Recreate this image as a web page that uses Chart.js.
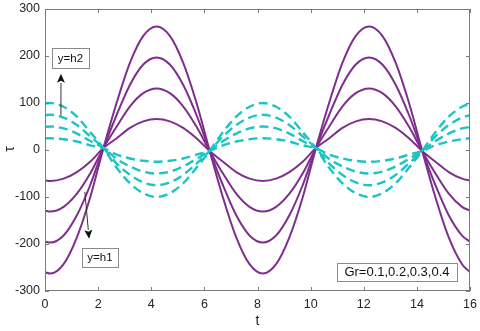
<!DOCTYPE html>
<html>
<head>
<meta charset="utf-8">
<script src="https://cdn.jsdelivr.net/npm/chart.js@4.4.1/dist/chart.umd.min.js"></script>
<style>
  html, body { margin:0; padding:0; background:#fff; }
  #wrap { width:480px; height:331px; }
</style>
</head>
<body>
<div id="wrap"><canvas id="chart" width="480" height="331"></canvas></div>
<script>
// ─── Data ─────────────────────────────────────────────────────────────────────
const T = [0, 0.2, 0.7, 1.2, 1.7, 2.2, 2.7, 3.2, 3.7, 4.2, 4.7, 5.2, 5.7, 6.2, 6.7, 7.2, 7.7,
           8.2, 8.7, 9.2, 9.7, 10.2, 10.7, 11.2, 11.7, 12.2, 12.7, 13.2, 13.7, 14.2, 14.7, 15.2, 15.7, 16];

// purple solid (tau, y=h1 side)
const P1 = [-65, -66,-61,-47,-25, 4, 25,47,61, 66,61,47,25, -2, -25,-47,-61, -66,-61,-47,-25, 4, 25,47,61, 66,61,47,25, -2, -25,-47,-61, -65];
const P2 = [-129, -131,-121,-93,-50, 4, 50,93,121, 131,121,93,50, -2, -50,-93,-121, -131,-121,-93,-50, 4, 50,93,121, 131,121,93,50, -2, -50,-93,-121, -129];
const P3 = [-195, -197,-182,-139,-75, 4, 75,139,182, 197,182,139,75, -2, -75,-139,-182, -197,-182,-139,-75, 4, 75,139,182, 197,182,139,75, -2, -75,-139,-182, -195];
const P4 = [-260, -263,-243,-186,-101, 4, 101,186,243, 263,243,186,101, -2, -101,-186,-243, -263,-243,-186,-101, 4, 101,186,243, 263,243,186,101, -2, -101,-186,-243, -260];

// cyan dashed (y=h2 side)
const C1 = [25, 25,23,18,10, 4, -10,-18,-23, -25,-23,-18,-10, -2, 10,18,23, 25,23,18,10, 4, -10,-18,-23, -25,-23,-18,-10, -2, 10,18,23, 25];
const C2 = [49, 50,46,35,19, 4, -19,-35,-46, -50,-46,-35,-19, -2, 19,35,46, 50,46,35,19, 4, -19,-35,-46, -50,-46,-35,-19, -2, 19,35,46, 49];
const C3 = [74, 75,69,53,29, 4, -29,-53,-69, -75,-69,-53,-29, -2, 29,53,69, 75,69,53,29, 4, -29,-53,-69, -75,-69,-53,-29, -2, 29,53,69, 74];
const C4 = [99, 100,92,71,38, 4, -38,-71,-92, -100,-92,-71,-38, -2, 38,71,92, 100,92,71,38, 4, -38,-71,-92, -100,-92,-71,-38, -2, 38,71,92, 99];

const X_TICKS = [0, 2, 4, 6, 8, 10, 12, 14, 16];
const Y_TICKS = [-300, -200, -100, 0, 100, 200, 300];

// ─── Style ────────────────────────────────────────────────────────────────────
const PURPLE = '#7e2f8e';
const CYAN = '#1cc4c4';
const AXIS = '#7a7a7a';
const TXT = '#262626';
const FONT = "'Liberation Sans', Arial, sans-serif";

const pts = arr => T.map((t, i) => ({ x: t, y: arr[i] }));
const cyanSet = arr => ({ data: pts(arr), borderColor: CYAN, borderWidth: 2.4, borderDash: [9, 5], pointRadius: 0, cubicInterpolationMode: 'monotone' });
const purpleSet = arr => ({ data: pts(arr), borderColor: PURPLE, borderWidth: 2, pointRadius: 0, cubicInterpolationMode: 'monotone' });

// annotation boxes & arrows, in data coordinates
const NOTES = [
  { text: 'y=h2', t: 0.96, v: 196, w: 37, h: 20, size: 11.5 },
  { text: 'y=h1', t: 2.07, v: -229, w: 36, h: 19, size: 11.5 },
  { text: 'Gr=0.1,0.2,0.3,0.4', t: 13.25, v: -260, w: 120, h: 18, size: 13 },
];
const ARROWS = [
  { from: [0.6, 74], to: [0.6, 162] },
  { from: [1.5, -89], to: [1.66, -189] },
];

// ─── Frame / ticks / labels plugin ────────────────────────────────────────────
const framePlugin = {
  id: 'frame',
  afterDraw(chart) {
    const { ctx, chartArea: a, scales: { x, y } } = chart;
    ctx.save();
    ctx.strokeStyle = AXIS;
    ctx.lineWidth = 1;
    ctx.strokeRect(a.left + 0.5, a.top + 0.5, a.right - a.left - 1, a.bottom - a.top - 1);
    ctx.beginPath();
    X_TICKS.forEach(v => {
      const px = Math.round(x.getPixelForValue(v)) + 0.5;
      ctx.moveTo(px, a.bottom); ctx.lineTo(px, a.bottom - 4);
      ctx.moveTo(px, a.top); ctx.lineTo(px, a.top + 4);
    });
    Y_TICKS.forEach(v => {
      const py = Math.round(y.getPixelForValue(v)) + 0.5;
      ctx.moveTo(a.left, py); ctx.lineTo(a.left + 4, py);
      ctx.moveTo(a.right, py); ctx.lineTo(a.right - 4, py);
    });
    ctx.stroke();

    // axis titles
    ctx.fillStyle = TXT;
    ctx.font = `14px ${FONT}`;
    ctx.textAlign = 'center';
    ctx.textBaseline = 'middle';
    ctx.fillText('t', (a.left + a.right) / 2, 321);
    ctx.save();
    ctx.translate(10, y.getPixelForValue(0) - 1);
    ctx.rotate(-Math.PI / 2);
    ctx.fillText('τ', 0, 0);
    ctx.restore();

    // arrows
    ctx.strokeStyle = '#333';
    ctx.fillStyle = '#111';
    ARROWS.forEach(ar => {
      const x0 = x.getPixelForValue(ar.from[0]), y0 = y.getPixelForValue(ar.from[1]);
      const x1 = x.getPixelForValue(ar.to[0]), y1 = y.getPixelForValue(ar.to[1]);
      const ang = Math.atan2(y1 - y0, x1 - x0);
      const hl = 9, hw = 4;
      const bx = x1 - hl * Math.cos(ang), by = y1 - hl * Math.sin(ang);
      ctx.beginPath(); ctx.moveTo(x0, y0); ctx.lineTo(bx, by); ctx.stroke();
      ctx.beginPath();
      ctx.moveTo(x1, y1);
      ctx.lineTo(bx + hw * Math.sin(ang), by - hw * Math.cos(ang));
      ctx.lineTo(bx + 2 * Math.cos(ang), by + 2 * Math.sin(ang));
      ctx.lineTo(bx - hw * Math.sin(ang), by + hw * Math.cos(ang));
      ctx.closePath(); ctx.fill();
    });

    // text boxes
    NOTES.forEach(n => {
      const cx = x.getPixelForValue(n.t), cy = y.getPixelForValue(n.v);
      const l = Math.round(cx - n.w / 2) + 0.5, t = Math.round(cy - n.h / 2) + 0.5;
      ctx.fillStyle = '#fff';
      ctx.fillRect(l, t, n.w, n.h);
      ctx.strokeStyle = '#8a8a8a';
      ctx.strokeRect(l, t, n.w, n.h);
      ctx.fillStyle = '#111';
      ctx.font = `${n.size}px ${FONT}`;
      ctx.textAlign = 'center';
      ctx.textBaseline = 'middle';
      ctx.fillText(n.text, cx, cy + 0.5);
    });
    ctx.restore();
  }
};

// ─── Chart ────────────────────────────────────────────────────────────────────
new Chart(document.getElementById('chart').getContext('2d'), {
  type: 'line',
  data: {
    datasets: [cyanSet(C1), cyanSet(C2), cyanSet(C3), cyanSet(C4),
               purpleSet(P1), purpleSet(P2), purpleSet(P3), purpleSet(P4)]
  },
  options: {
    responsive: false,
    animation: false,
    devicePixelRatio: 1,
    layout: { padding: { top: 9, right: 10, left: 0, bottom: 0 } },
    plugins: { legend: { display: false }, tooltip: { enabled: false } },
    scales: {
      x: {
        type: 'linear', min: 0, max: 16,
        afterFit: s => { s.height = 40; s.paddingLeft = 0; s.paddingRight = 0; },
        afterBuildTicks: s => { s.ticks = X_TICKS.map(v => ({ value: v })); },
        ticks: { color: TXT, padding: 6, maxRotation: 0, font: { family: FONT, size: 12.5 } },
        grid: { display: false, drawTicks: false },
        border: { display: false }
      },
      y: {
        type: 'linear', min: -300, max: 300,
        afterFit: s => { s.width = 45; s.paddingTop = 0; s.paddingBottom = 0; },
        afterBuildTicks: s => { s.ticks = Y_TICKS.map(v => ({ value: v })); },
        ticks: { color: TXT, padding: 5, font: { family: FONT, size: 12.5 } },
        grid: { display: false, drawTicks: false },
        border: { display: false }
      }
    }
  },
  plugins: [framePlugin]
});
</script>
</body>
</html>
